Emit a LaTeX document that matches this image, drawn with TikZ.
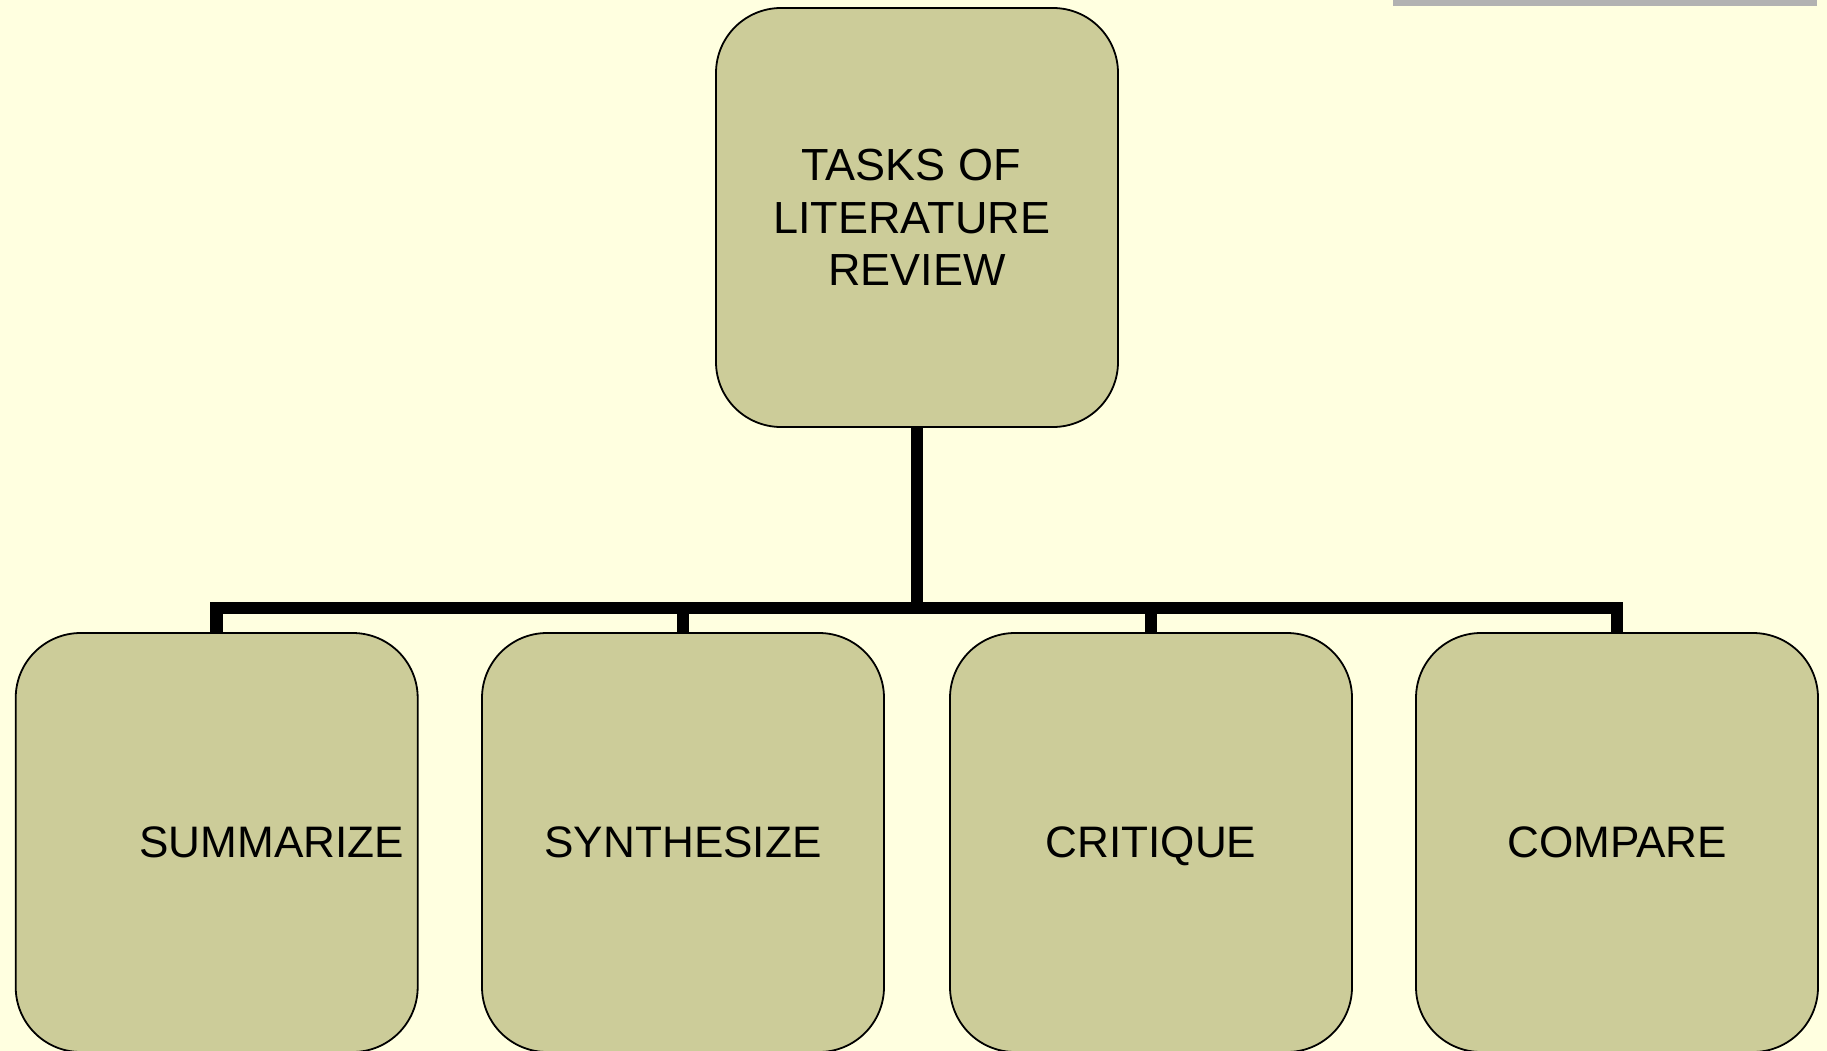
\documentclass[tikz,border=0pt]{standalone}
\usepackage{fontspec}
\setmainfont{Liberation Sans}
\definecolor{bg}{HTML}{FFFFE0}
\definecolor{boxfill}{HTML}{CCCC99}
\definecolor{barcol}{HTML}{B2B2B2}
\begin{document}
\begin{tikzpicture}[x=1pt,y=-1pt,
  taskbox/.style={draw=black, line width=1.8pt, fill=boxfill, rounded corners=65pt,
    minimum width=402pt, minimum height=419pt, inner sep=0pt, outer sep=0pt,
    align=center, text=black},
  leaf/.style={taskbox, font=\fontsize{44.1}{52}\selectfont, text depth=0pt},
  conn/.style={line width=12.5pt, draw=black}]
\useasboundingbox (0,0) rectangle (1827,1051);
\fill[bg] (0,0) rectangle (1827,1051);
\fill[barcol] (1393,0) rectangle (1817,5.7);
\coordinate (bus) at (917,608);
\node[taskbox, font=\fontsize{45}{52.5}\selectfont] (top) at (917,217.5)
  {TASKS OF\rule{11.5pt}{0pt}\\LITERATURE\rule{10.5pt}{0pt}\\REVIEW};
\node[leaf] (b1) at (216.7,842.5) {\hspace*{110pt}SUMMARIZE};
\node[leaf] (b2) at (683,842.5) {SYNTHESIZE};
\node[leaf] (b3) at (1151,842.5) {CRITIQUE};
\node[leaf] (b4) at (1617,842.5) {COMPARE};
\draw[conn] (b1.north) |- (bus) -| (b4.north);
\draw[conn] (top.south) -- (bus);
\draw[conn] (b2.north) -- (b2.north |- bus);
\draw[conn] (b3.north) -- (b3.north |- bus);
\end{tikzpicture}
\end{document}
